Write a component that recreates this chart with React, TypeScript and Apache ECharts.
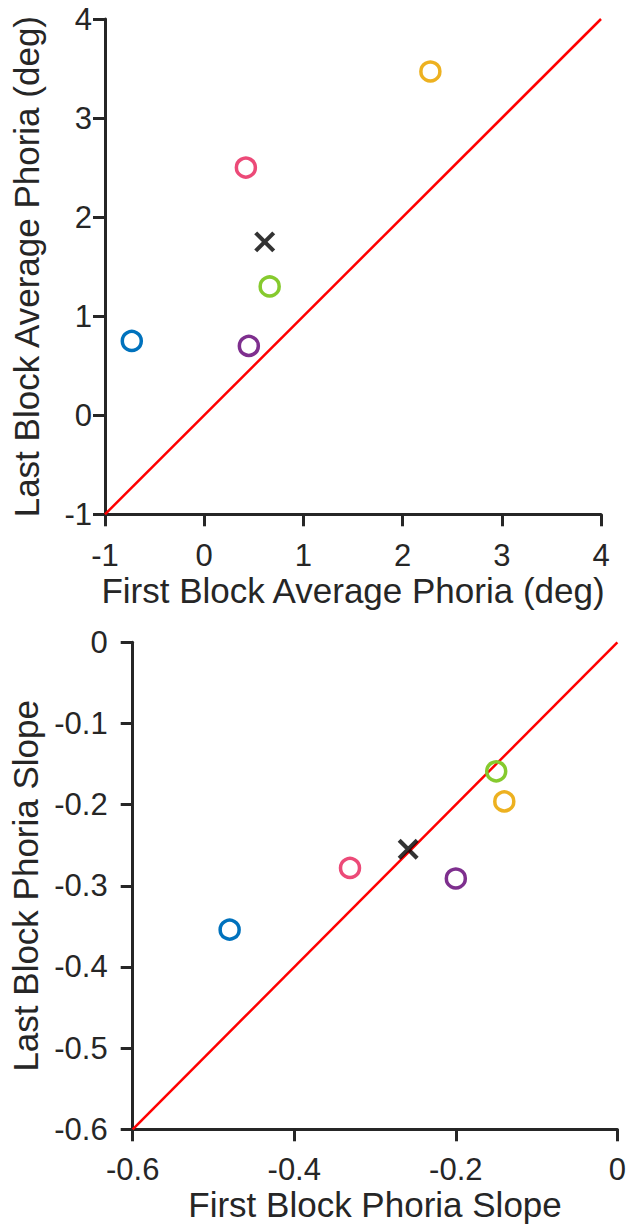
import React, { useEffect, useRef } from "react";
import * as echarts from "echarts";

// One colour per subject; the black cross is the group mean.
const subjectColors = ["#0072BD", "#EC4A78", "#86CA2E", "#7E2F8E", "#EDB120"];

// Average phoria (deg), first vs last block
const firstBlockAvg = [-0.73, 0.42, 0.66, 0.45, 2.28];
const lastBlockAvg = [0.75, 2.5, 1.3, 0.7, 3.47];
const meanAvg = [0.61, 1.75];

// Phoria slope, first vs last block
const firstBlockSlope = [-0.48, -0.331, -0.15, -0.2, -0.14];
const lastBlockSlope = [-0.354, -0.278, -0.159, -0.291, -0.196];
const meanSlope = [-0.259, -0.255];

// Axis ranges
const avgRange = [-1, 4];
const slopeRange = [-0.6, 0];

const INK = "#262626";
const FONT = "'Liberation Sans', Arial, Helvetica, sans-serif";

function axisCommon(labelMargin: number) {
  return {
    axisLine: { show: true, onZero: false, lineStyle: { color: INK, width: 3 } },
    axisTick: { show: true, inside: false, length: 12, lineStyle: { color: INK, width: 3 } },
    axisLabel: { color: INK, fontSize: 31, fontFamily: FONT, margin: labelMargin },
    splitLine: { show: false },
    nameLocation: "middle" as const,
    nameTextStyle: { color: INK, fontSize: 35, fontFamily: FONT },
  };
}

function subjectSeries(xs: number[], ys: number[], gridIdx: number) {
  return xs.map((x, i) => ({
    type: "scatter",
    xAxisIndex: gridIdx,
    yAxisIndex: gridIdx,
    symbol: "circle",
    symbolSize: 19,
    silent: true,
    z: 5,
    itemStyle: {
      color: "rgba(0,0,0,0)",
      borderColor: subjectColors[i],
      borderWidth: 3.5,
      opacity: 1,
    },
    data: [[x, ys[i]]],
  }));
}

function meanSeries(pt: number[], gridIdx: number) {
  return {
    type: "scatter",
    xAxisIndex: gridIdx,
    yAxisIndex: gridIdx,
    symbol: "path://M0,0L10,10M10,0L0,10",
    symbolSize: 18,
    silent: true,
    z: 6,
    itemStyle: { color: "rgba(0,0,0,0)", borderColor: "#000000", borderWidth: 4.2 },
    data: [pt],
  };
}

function identitySeries(range: number[], gridIdx: number) {
  return {
    type: "line",
    xAxisIndex: gridIdx,
    yAxisIndex: gridIdx,
    symbol: "none",
    silent: true,
    z: 3,
    lineStyle: { color: "#FF0000", width: 2.5 },
    data: [
      [range[0], range[0]],
      [range[1], range[1]],
    ],
  };
}

export default function App() {
  const ref = useRef<HTMLDivElement>(null);

  useEffect(() => {
    if (!ref.current) return;
    const chart = echarts.init(ref.current, undefined, { renderer: "svg" });
    chart.setOption({
      animation: false,
      backgroundColor: "#ffffff",
      grid: [
        { left: 105, top: 19, width: 496, height: 495.3 },
        { left: 132.7, top: 642.3, width: 485.6, height: 487 },
      ],
      xAxis: [
        {
          ...axisCommon(26),
          gridIndex: 0,
          type: "value",
          min: avgRange[0],
          max: avgRange[1],
          interval: 1,
          name: "First Block Average Phoria (deg)",
          nameGap: 59,
        },
        {
          ...axisCommon(25),
          gridIndex: 1,
          type: "value",
          min: slopeRange[0],
          max: slopeRange[1],
          interval: 0.2,
          name: "First Block Phoria Slope",
          nameGap: 58,
        },
      ],
      yAxis: [
        {
          ...axisCommon(13),
          gridIndex: 0,
          type: "value",
          min: avgRange[0],
          max: avgRange[1],
          interval: 1,
          name: "Last Block Average Phoria (deg)",
          nameGap: 61,
        },
        {
          ...axisCommon(25),
          gridIndex: 1,
          type: "value",
          min: slopeRange[0],
          max: slopeRange[1],
          interval: 0.1,
          name: "Last Block Phoria Slope",
          nameGap: 87,
        },
      ],
      series: [
        identitySeries(avgRange, 0),
        ...subjectSeries(firstBlockAvg, lastBlockAvg, 0),
        meanSeries(meanAvg, 0),
        identitySeries(slopeRange, 1),
        ...subjectSeries(firstBlockSlope, lastBlockSlope, 1),
        meanSeries(meanSlope, 1),
      ],
    });
    return () => chart.dispose();
  }, []);

  return (
    <div
      ref={ref}
      style={{ position: "fixed", left: 0, top: 0, width: 629, height: 1226, background: "#fff" }}
    />
  );
}
